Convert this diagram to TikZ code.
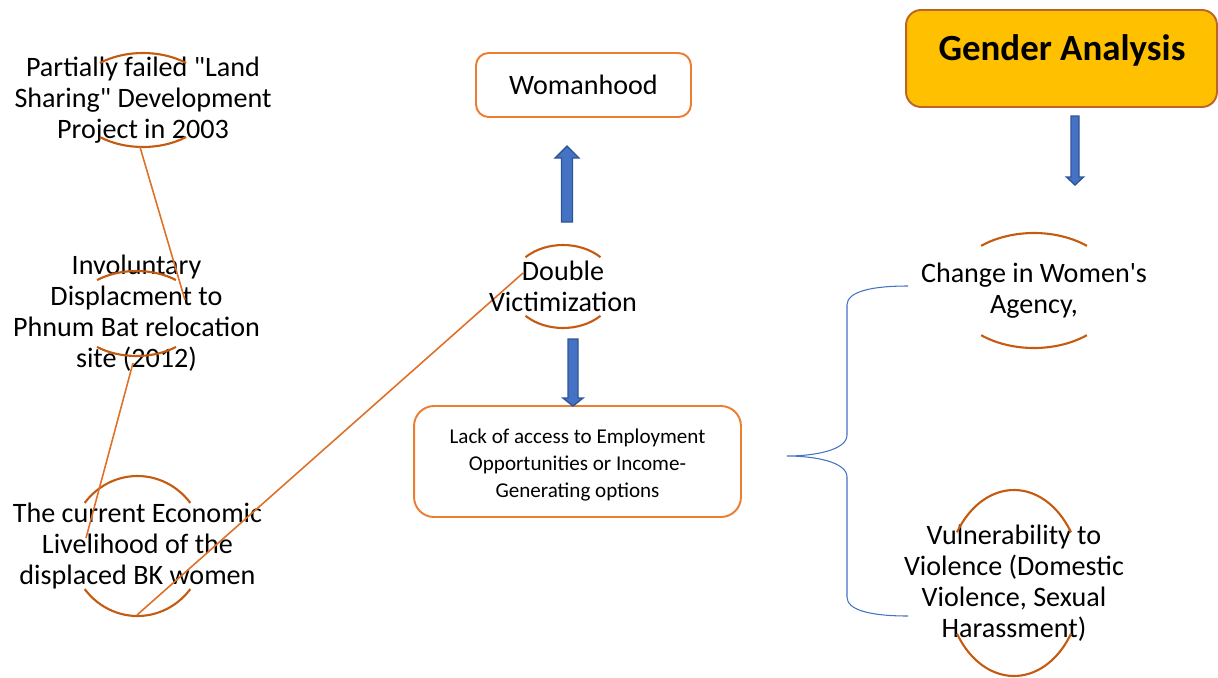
\documentclass[tikz,border=0pt]{standalone}
\usepackage{fontspec}
\setmainfont{Carlito}[Ligatures=TeXOff]
\usepackage{tikz}
\usetikzlibrary{positioning,calc}
\usepackage{xcolor}

\definecolor{arcbrown}{RGB}{197,90,17}
\definecolor{lineorange}{RGB}{222,112,40}
\definecolor{boxorange}{RGB}{237,125,49}
\definecolor{gagold}{RGB}{255,192,0}
\definecolor{gaedge}{RGB}{190,100,40}
\definecolor{arrowblue}{RGB}{68,114,196}
\definecolor{arrowedge}{RGB}{47,85,151}

% top and bottom arcs round a text: centre, x radius, y radius, angle
\newcommand{\arcpair}[4]{%
  \draw[arcline] ($(#1)+({#2*cos(#4)},{#3*sin(#4)})$) arc[start angle=#4,end angle=180-#4,x radius=#2,y radius=#3];
  \draw[arcline] ($(#1)+({#2*cos(180+#4)},{#3*sin(180+#4)})$) arc[start angle=180+#4,end angle=360-#4,x radius=#2,y radius=#3];}

% block arrow: x, tail y, head base y, tip y, half shaft, half head
\newcommand{\blockarrow}[6]{%
  \filldraw[blockarr] (#1-#5,#2) -- (#1-#5,#3) -- (#1-#6,#3) -- (#1,#4) -- (#1+#6,#3) -- (#1+#5,#3) -- (#1+#5,#2) -- cycle;}

\begin{document}
\begin{tikzpicture}[x=0.02cm,y=0.02cm,
    txt/.style={align=center,inner sep=0pt,font=\fontsize{16}{17.6}\selectfont},
    arcline/.style={draw=arcbrown,line width=1.2pt},
    link/.style={draw=lineorange,line width=0.9pt},
    obox/.style={rectangle,rounded corners=0.25cm,draw=boxorange,line width=1.1pt},
    blockarr/.style={fill=arrowblue,draw=arrowedge,line width=0.8pt},
    brace/.style={draw=arrowblue,line width=0.6pt}]

\useasboundingbox (0,0) rectangle (1218,-677);

% left column
\node[txt] (land) at (143,-100) {Partially failed "Land\\Sharing" Development\\Project in 2003};
\node[txt] (displ) at (136.5,-313.5) {Involuntary\\Displacment to\\Phnum Bat relocation\\site (2012)};
\node[txt] (econ) at (137.5,-546) {The current Economic\\Livelihood of the\\displaced BK women};
\arcpair{land}{70}{47}{52}
\arcpair{displ}{64}{42.5}{52}
\arcpair{econ}{67}{70}{38}

\coordinate (landfoot) at (140,-147);
\coordinate (displtop) at (185,-300);
\coordinate (displfoot) at (133,-363);
\coordinate (econtop) at (86,-538);
\coordinate (econfoot) at (137,-615);
\coordinate (dvleft) at (523,-273);
\draw[link] (landfoot) -- (displtop);
\draw[link] (displfoot) -- (econtop);
\draw[link] (econfoot) -- (dvleft);

% middle column
\node[obox,minimum width=4.3cm,minimum height=1.28cm,txt] (woman) at (583.5,-85) {Womanhood};
\node[txt] (dv) at (563,-286.5) {Double\\Victimization};
\arcpair{dv}{53}{41.5}{45}
\node[obox,rounded corners=0.4cm,minimum width=6.54cm,minimum height=2.22cm] (lack) at (577.5,-461.5) {};
\node[txt,font=\fontsize{12}{15.6}\selectfont] (lacktext) at (577.5,-465)
  {Lack of access to Employment\\Opportunities or Income-\\Generating options};
\blockarrow{567}{-222}{-158}{-146}{5.5}{12}
\blockarrow{573}{-339}{-398}{-406}{5}{10}

% right column
\node[rectangle,rounded corners=0.3cm,fill=gagold,draw=gaedge,line width=1.1pt,
  minimum width=6.22cm,minimum height=1.94cm] (ga) at (1061.5,-58.5) {};
\node[font=\fontsize{21}{25}\selectfont\bfseries] (gatext) at (1062,-50) {Gender Analysis};
\blockarrow{1075}{-116}{-177}{-185}{4}{8.5}

\node[txt] (agency) at (1034,-290.5) {Change in Women's\\Agency,};
\arcpair{agency}{84}{57.5}{51}
\node[txt] (vuln) at (1014,-583) {Vulnerability to\\Violence (Domestic\\Violence, Sexual\\Harassment)};
\arcpair{vuln}{68}{93}{33}

\coordinate (bracetop) at (908,-286);
\coordinate (bracetip) at (787,-456);
\coordinate (bracefoot) at (908,-616);
\draw[brace] (bracetop) .. controls (870,-286) and (847,-292) .. (847,-305) -- (847,-435)
  .. controls (847,-450) and (815,-456) .. (bracetip)
  .. controls (815,-456) and (847,-462) .. (847,-477) -- (847,-597)
  .. controls (847,-610) and (870,-616) .. (bracefoot);

\end{tikzpicture}
\end{document}
